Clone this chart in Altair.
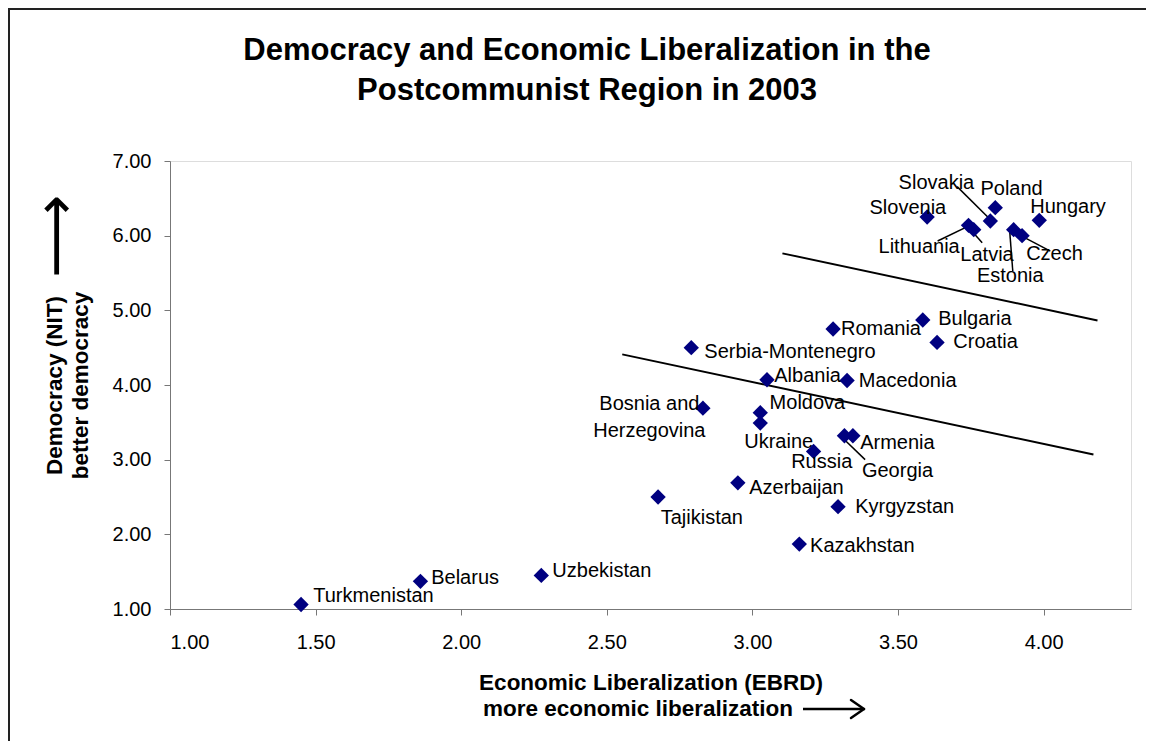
import altair as alt
import pandas as pd

# ---- data ----
countries = ["Turkmenistan", "Belarus", "Uzbekistan", "Tajikistan", "Azerbaijan",
             "Kyrgyzstan", "Kazakhstan", "Romania", "Bulgaria", "Croatia",
             "Serbia-Montenegro", "Albania", "Macedonia", "Bosnia and Herzegovina",
             "Moldova", "Ukraine", "Russia", "Georgia", "Armenia", "Slovenia",
             "Poland", "Slovakia", "Hungary", "Lithuania", "Latvia", "Estonia", "Czech"]
econ = [1.45, 1.86, 2.275, 2.676, 2.95, 3.294, 3.161, 3.277, 3.585, 3.634,
        2.79, 3.05, 3.325, 2.83, 3.027, 3.027, 3.21, 3.316, 3.345, 3.60,
        3.834, 3.817, 3.985, 3.742, 3.76, 3.897, 3.926]
democ = [1.06, 1.37, 1.45, 2.50, 2.69, 2.37, 1.87, 4.75, 4.87, 4.57,
         4.50, 4.07, 4.06, 3.69, 3.63, 3.49, 3.11, 3.32, 3.32, 6.25,
         6.375, 6.196, 6.205, 6.138, 6.08, 6.08, 6.00]

# label anchor positions (data units), left-aligned text
label_x = [1.492, 1.897, 2.313, 2.685, 2.989, 3.353, 3.198, 3.304, 3.638, 3.690,
           2.835, 3.075, 3.365, 2.646, 3.059, 2.972, 3.133, 3.376, 3.370, 3.402,
           3.783, 3.502, 3.954, 3.433, 3.714, 3.771, 3.940]
label_y = [1.178, 1.420, 1.513, 2.224, 2.622, 2.371, 1.849, 4.744, 4.878, 4.570,
           4.440, 4.127, 4.051, 3.739, 3.761, 3.233, 2.965, 2.845, 3.225, 6.366,
           6.630, 6.710, 6.389, 5.853, 5.740, 5.458, 5.749]

# leader lines from labels to points (data units)
leader_x1 = [3.703, 3.636, 3.789, 3.894, 4.023, 3.387]
leader_y1 = [6.657, 5.928, 5.906, 5.526, 5.794, 3.001]
leader_x2 = [3.828, 3.754, 3.760, 3.883, 3.920, 3.301]
leader_y2 = [6.174, 6.151, 6.031, 6.085, 6.004, 3.323]

# two straight lines drawn on the chart
line_x1 = [3.103, 2.553]
line_y1 = [5.763, 4.410]
line_x2 = [4.185, 4.171]
line_y2 = [4.865, 3.070]

x_ticks = [1.0, 1.5, 2.0, 2.5, 3.0, 3.5, 4.0]
y_ticks = [1.0, 2.0, 3.0, 4.0, 5.0, 6.0, 7.0]

title_text = "Democracy and Economic Liberalization in the\nPostcommunist Region in 2003"
x_title = "Economic Liberalization (EBRD)"
x_title2 = "more economic liberalization"
y_title = ["Democracy (NIT)", "better democracy"]
ARROW = "\u27f6"

FONT = "Liberation Sans"
W, H = 961, 448

pts = pd.DataFrame({"country": countries, "econ": econ, "democ": democ,
                    "lx": label_x, "ly": label_y})
pts["label"] = pts["country"].where(pts["country"] != "Bosnia and Herzegovina", "")
bosnia = pts[pts["country"] == "Bosnia and Herzegovina"].copy()
bosnia["label"] = "Bosnia and\nHerzegovina"

leaders = pd.DataFrame({"x1": leader_x1, "y1": leader_y1, "x2": leader_x2, "y2": leader_y2})
lines = pd.DataFrame({"x1": line_x1, "y1": line_y1, "x2": line_x2, "y2": line_y2})

xscale = alt.Scale(domain=[1.0, 4.3], nice=False, zero=False)
yscale = alt.Scale(domain=[1.0, 7.0], nice=False, zero=False)

xaxis = alt.Axis(values=x_ticks, format=".2f", grid=False, title=x_title,
                 titleFont=FONT, titleFontSize=22.5, titleFontWeight="bold", titleColor="black",
                 titlePadding=19,
                 labelFont=FONT, labelFontSize=20, labelColor="black", labelPadding=17,
                 tickSize=6, tickColor="#777", domainColor="#777")
yaxis = alt.Axis(values=y_ticks, format=".2f", grid=False, title=y_title,
                 titleFont=FONT, titleFontSize=22.5, titleFontWeight="bold", titleColor="black",
                 titleLineHeight=26, titleAngle=270, titleAlign="center", titleBaseline="middle",
                 titleX=-116, titleY=224,
                 labelFont=FONT, labelFontSize=20, labelColor="black", labelPadding=13,
                 tickSize=6, tickColor="#777", domainColor="#777")

one = pd.DataFrame({"a": [0]})

frame = alt.Chart(one).mark_rect(
    fill="white", fillOpacity=0, stroke="#222", strokeWidth=2
).encode(x=alt.value(-161), x2=alt.value(W + 200), y=alt.value(-152), y2=alt.value(H + 300))

trend = alt.Chart(lines).mark_rule(color="black", strokeWidth=2).encode(
    x=alt.X("x1:Q", scale=xscale, axis=xaxis), y=alt.Y("y1:Q", scale=yscale, axis=yaxis),
    x2="x2:Q", y2="y2:Q")

lead = alt.Chart(leaders).mark_rule(color="black", strokeWidth=1.5).encode(
    x=alt.X("x1:Q", scale=xscale), y=alt.Y("y1:Q", scale=yscale), x2="x2:Q", y2="y2:Q")

points = alt.Chart(pts).mark_point(shape="diamond", filled=True, color="#000080",
                                   size=235, opacity=1).encode(
    x=alt.X("econ:Q", scale=xscale), y=alt.Y("democ:Q", scale=yscale))

labels = alt.Chart(pts).mark_text(align="left", baseline="middle", font=FONT,
                                  fontSize=20, color="black").encode(
    x=alt.X("lx:Q", scale=xscale), y=alt.Y("ly:Q", scale=yscale), text="label:N")

blabel = alt.Chart(bosnia).mark_text(align="center", baseline="middle", font=FONT,
                                     fontSize=20, color="black", lineBreak="\n",
                                     lineHeight=27).encode(
    x=alt.X("lx:Q", scale=xscale), y=alt.Y("ly:Q", scale=yscale), text="label:N")

title = alt.Chart(pd.DataFrame({"t": [title_text]})).mark_text(
    align="center", baseline="middle", font=FONT, fontSize=31, fontWeight="bold",
    color="black", lineBreak="\n", lineHeight=40
).encode(x=alt.value(417), y=alt.value(-110), text="t:N")

xtitle2 = alt.Chart(pd.DataFrame({"t": [x_title2]})).mark_text(
    align="left", baseline="middle", font=FONT, fontSize=22.5, fontWeight="bold",
    color="black").encode(x=alt.value(313), y=alt.value(H + 99.5), text="t:N")

yarrow = alt.Chart(pd.DataFrame({"t": [ARROW]})).mark_text(
    angle=270, align="center", baseline="middle", fontSize=58, color="black",
    font="DejaVu Sans").encode(x=alt.value(-112), y=alt.value(75), text="t:N")

# x-title arrow drawn as three strokes (shaft + open head)
AY = H + 100
arrow_shaft = alt.Chart(one).mark_rule(color="black", strokeWidth=2.5).encode(
    x=alt.value(633), x2=alt.value(693), y=alt.value(AY), y2=alt.value(AY))
arrow_h1 = alt.Chart(one).mark_rule(color="black", strokeWidth=2.5, strokeCap="round").encode(
    x=alt.value(681), x2=alt.value(694), y=alt.value(AY - 9), y2=alt.value(AY))
arrow_h2 = alt.Chart(one).mark_rule(color="black", strokeWidth=2.5, strokeCap="round").encode(
    x=alt.value(681), x2=alt.value(694), y=alt.value(AY + 9), y2=alt.value(AY))

chart = alt.layer(frame, trend, lead, points, labels, blabel, title, xtitle2,
                  yarrow, arrow_shaft, arrow_h1, arrow_h2).properties(
    width=W, height=H,
    autosize=alt.AutoSizeParams(type="none"),
    padding={"left": 162, "top": 153, "right": 15, "bottom": 132},
).configure_view(stroke=None).configure(background="white")

chart.save("out.html", embed_options={"renderer": "svg", "actions": False})
